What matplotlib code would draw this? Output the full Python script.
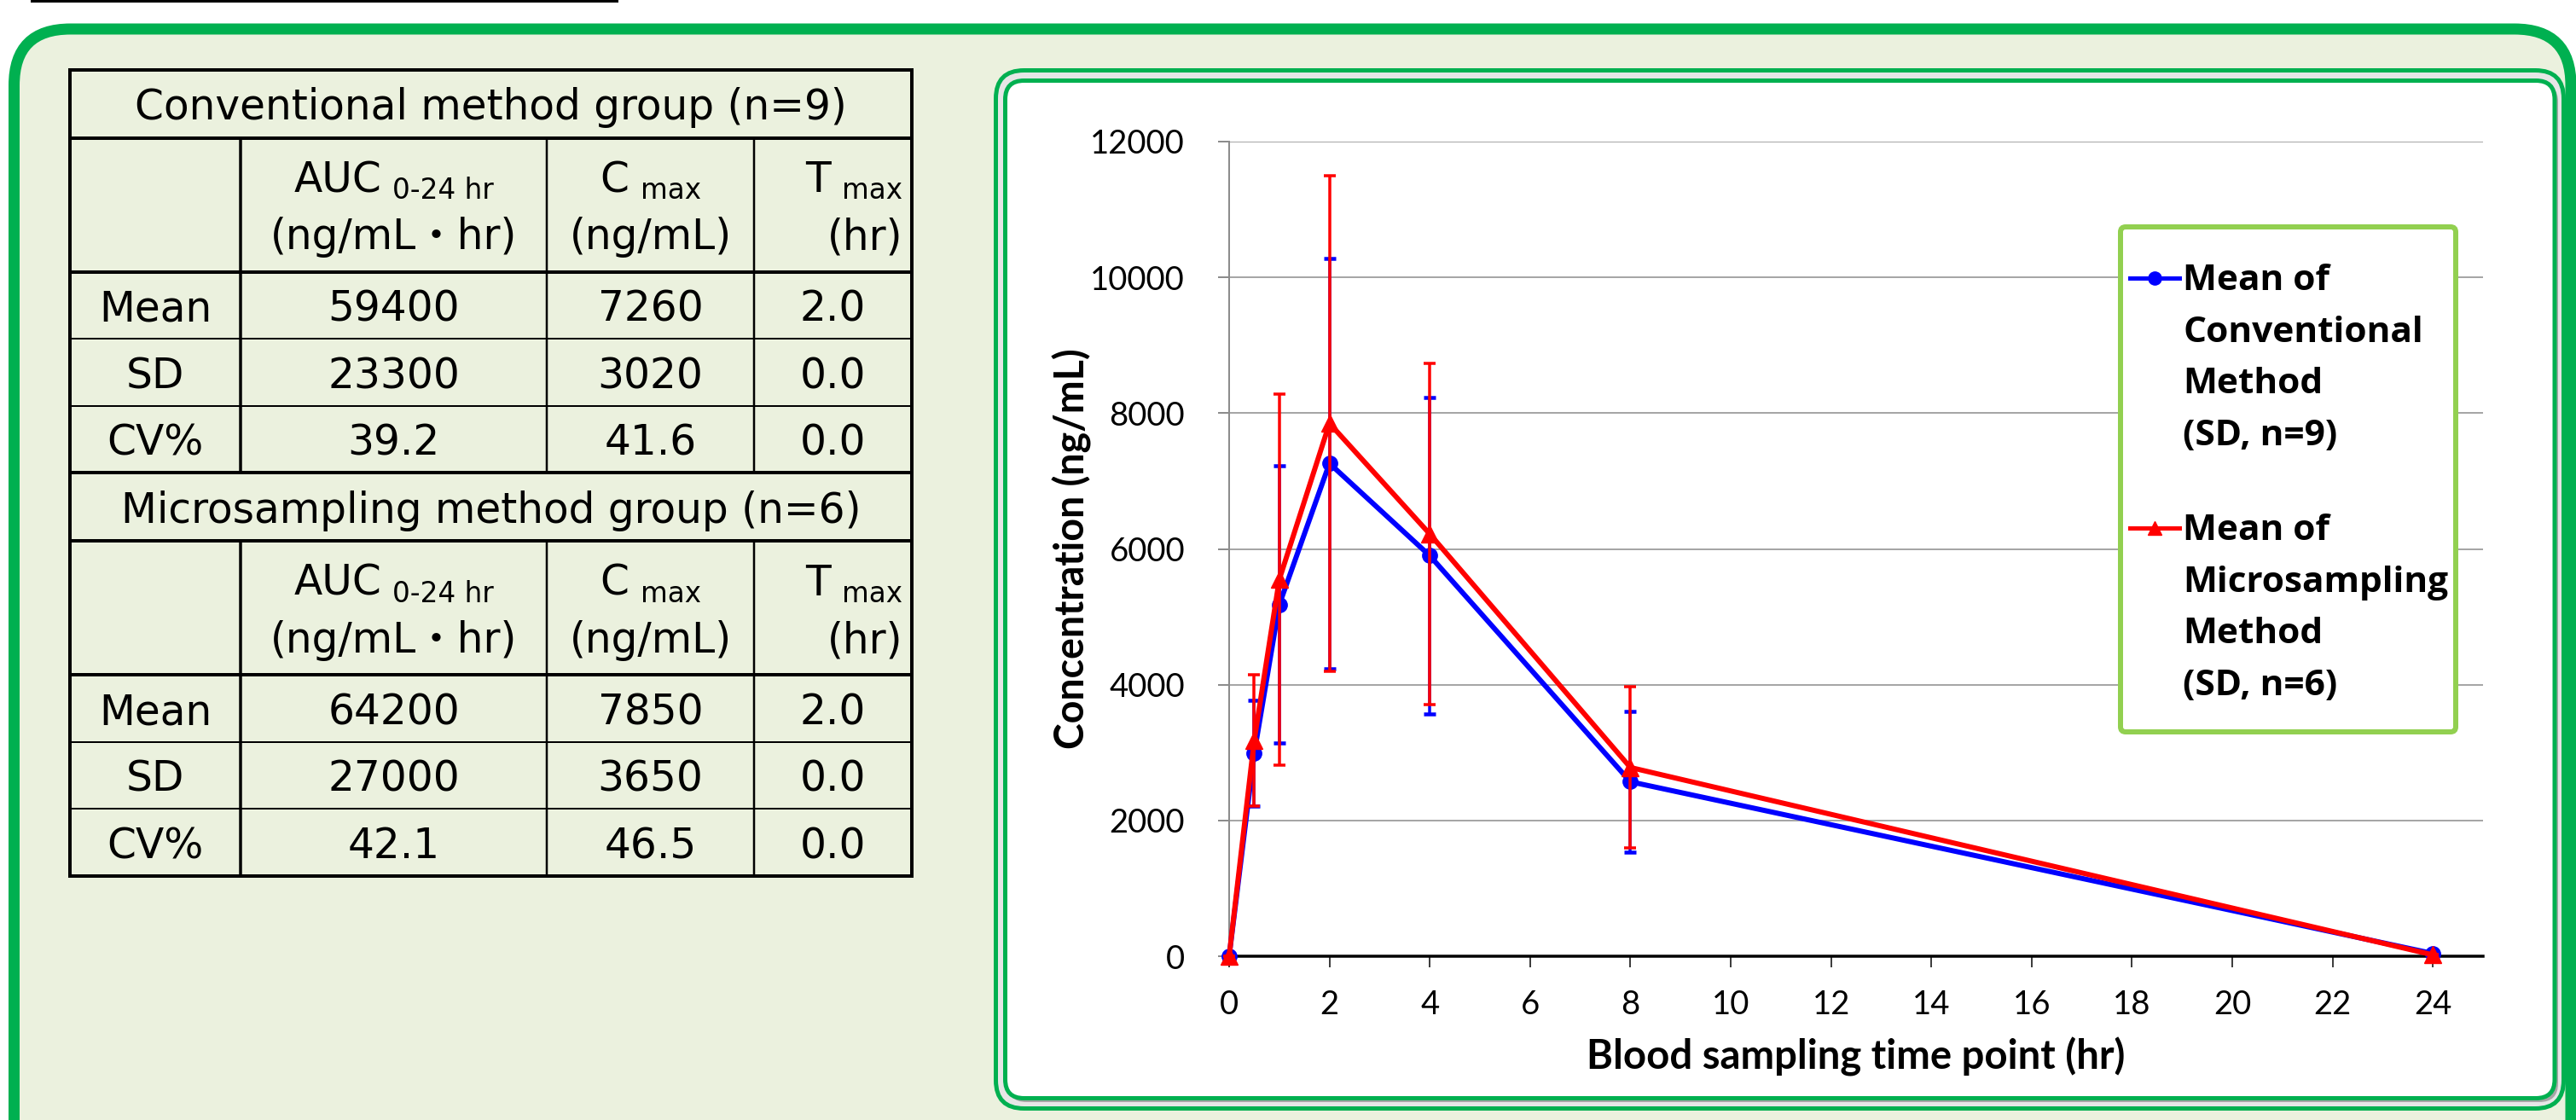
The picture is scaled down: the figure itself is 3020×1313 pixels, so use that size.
import matplotlib
matplotlib.use("Agg")
import matplotlib.pyplot as plt
from matplotlib.patches import FancyBboxPatch
from matplotlib.lines import Line2D
from matplotlib.transforms import IdentityTransform

# ---- data ----
time_hr = [0, 0.5, 1, 2, 4, 8, 24]
conv_mean = [0, 2990, 5180, 7260, 5900, 2570, 40]
conv_sd = [0, 775, 2040, 3020, 2330, 1040, 0]
micro_mean = [0, 3180, 5550, 7850, 6220, 2780, 20]
micro_sd = [0, 965, 2730, 3650, 2510, 1185, 0]

x_ticks = list(range(0, 25, 2))
y_ticks = list(range(0, 12001, 2000))

# ---- table contents ----
group_titles = ["Conventional method group (n=9)", "Microsampling method group (n=6)"]
param_names = ["AUC", "C", "T"]
param_subs = ["0-24 hr", "max", "max"]
param_units = ["(ng/mL・hr)", "(ng/mL)", "(hr)"]
stat_names = ["Mean", "SD", "CV%"]
conv_table = [["59400", "7260", "2.0"], ["23300", "3020", "0.0"], ["39.2", "41.6", "0.0"]]
micro_table = [["64200", "7850", "2.0"], ["27000", "3650", "0.0"], ["42.1", "46.5", "0.0"]]

legend_labels = [["Mean of", "Conventional", "Method", "(SD, n=9)"],
                 ["Mean of", "Microsampling", "Method", "(SD, n=6)"]]

W, H = 3020, 1313
plt.rcParams['font.family'] = ['Lato', 'DejaVu Sans']
fig = plt.figure(figsize=(W / 100, H / 100), dpi=100, facecolor='white')
ident = IdentityTransform()
PT = 0.72  # points per pixel at dpi 100

BLUE, RED = '#0000FF', '#FF0000'
GREEN, LGREEN, BG = '#00B050', '#92D050', '#EBF1DE'
TFONT = ['DejaVu Sans', 'Noto Sans CJK JP']


def rbox(x0, y0, x1, y1, r, **kw):
    # rounded box in image pixels (y from top)
    p = FancyBboxPatch((x0, H - y1), x1 - x0, y1 - y0,
                       boxstyle=f"round,pad=0,rounding_size={r}",
                       transform=ident, **kw)
    fig.add_artist(p)
    return p


def hline(x0, x1, y, lw, **kw):
    fig.add_artist(Line2D([x0, x1], [H - y, H - y], transform=ident, lw=lw * PT,
                          color='black', solid_capstyle='projecting', **kw))


def vline(x, y0, y1, lw, **kw):
    fig.add_artist(Line2D([x, x], [H - y0, H - y1], transform=ident, lw=lw * PT,
                          color='black', solid_capstyle='projecting', **kw))


def ptext(x, y, s, **kw):
    return fig.text(x, H - y, s, transform=ident, **kw)


# ---- background panels ----
hline(37, 723, 1, 3)
rbox(16.5, 34, 3014, 1420, 66, fc=BG, ec=GREEN, lw=13 * PT, zorder=-5)
rbox(1167.5, 82.5, 3005.5, 1299.5, 33, fc='#E6E6E6', ec=GREEN, lw=5 * PT, zorder=-4)
rbox(1181.5, 97.5, 2999, 1292, 22, fc='#A6A6A6', ec='none', zorder=-3)
rbox(1178.5, 94.5, 2995, 1287.5, 22, fc='white', ec=GREEN, lw=5 * PT, zorder=-2)

# ---- table ----
renderer = fig.canvas.get_renderer()
col_x = [82, 282, 641, 884, 1069]
title_h, header_h, row_h = 80, 157, 78.5
FS, FS_SUB = 35, 23.5


def header_cell(ci, top, main, sub, unit):
    x0, x1 = col_x[ci + 1], col_x[ci + 2]
    tm = ptext(0, 0, main, fontsize=FS, family=TFONT, va='baseline')
    ts = ptext(0, 0, sub, fontsize=FS_SUB, family=TFONT, va='baseline')
    wm = tm.get_window_extent(renderer).width
    ws = ts.get_window_extent(renderer).width
    gap = 13
    total = wm + gap + ws
    if ci == 2:
        start = x1 - 11 - total
        ptext(x1 - 11, top + 131, unit, fontsize=FS, family=TFONT, ha='right', va='baseline')
    else:
        start = (x0 + x1) / 2 - total / 2
        ptext((x0 + x1) / 2, top + 131, unit, fontsize=FS, family=TFONT, ha='center', va='baseline')
    tm.set_position((start, H - (top + 63.5)))
    ts.set_position((start + wm + gap, H - (top + 71.5)))


def draw_section(top, title, values):
    rows = [top, top + title_h, top + title_h + header_h]
    rows += [rows[-1] + row_h * (i + 1) for i in range(len(values))]
    bottom = rows[-1]
    hline(col_x[0], col_x[-1], rows[0], 4)
    hline(col_x[0], col_x[-1], rows[1], 4)
    hline(col_x[0], col_x[-1], rows[2], 4)
    for y in rows[3:-1]:
        hline(col_x[0], col_x[-1], y, 2)
    hline(col_x[0], col_x[-1], bottom, 4)
    vline(col_x[0], rows[0], bottom, 4)
    vline(col_x[-1], rows[0], bottom, 4)
    vline(col_x[1], rows[1], bottom, 3.5)
    for x in col_x[2:-1]:
        vline(x, rows[1], bottom, 2.5)
    ptext((col_x[0] + col_x[-1]) / 2, (rows[0] + rows[1]) / 2 + 19, title,
          fontsize=FS, family=TFONT, ha='center', va='baseline')
    for ci in range(3):
        header_cell(ci, rows[1], param_names[ci], param_subs[ci], param_units[ci])
    for ri, name in enumerate(stat_names):
        yc = (rows[3 + ri - 1] + rows[3 + ri]) / 2 + 19
        ptext((col_x[0] + col_x[1]) / 2, yc, name, fontsize=FS, family=TFONT,
              ha='center', va='baseline')
        for ci, v in enumerate(values[ri]):
            ptext((col_x[ci + 1] + col_x[ci + 2]) / 2, yc, v, fontsize=FS,
                  family=TFONT, ha='center', va='baseline')
    return bottom


b = draw_section(81.5, group_titles[0], conv_table)
draw_section(b, group_titles[1], micro_table)

# ---- chart ----
ax_l, ax_r, ax_t, ax_b = 1441, 2911, 166, 1121
ax = fig.add_axes([ax_l / W, 1 - ax_b / H, (ax_r - ax_l) / W, (ax_b - ax_t) / H])
ax.set_facecolor('none')

ax.errorbar(time_hr, conv_mean, yerr=conv_sd, color=BLUE, lw=6 * PT, marker='o', ms=12.5,
            elinewidth=3.5 * PT, capsize=4.7, capthick=4.5 * PT, clip_on=False, zorder=3)
ax.errorbar(time_hr, micro_mean, yerr=micro_sd, color=RED, lw=6 * PT, marker='^', ms=14,
            elinewidth=3.5 * PT, capsize=4.7, capthick=3.5 * PT, clip_on=False, zorder=4)

ax.set_xlim(0, 25)
ax.set_ylim(0, 12000)
ax.set_xticks(x_ticks)
ax.set_yticks(y_ticks)
ax.grid(axis='y', color='#A6A6A6', lw=2 * PT)
ax.grid(axis='x', visible=False)
ax.set_axisbelow(True)
for s in ['top', 'right']:
    ax.spines[s].set_visible(False)
ax.spines['left'].set_color('#8C8C8C')
ax.spines['left'].set_linewidth(2 * PT)
ax.spines['bottom'].set_color('black')
ax.spines['bottom'].set_linewidth(3.5 * PT)
ax.tick_params(axis='y', direction='out', length=13 * PT, width=2 * PT, color='#8C8C8C',
               pad=28, labelsize=27.5)
ax.tick_params(axis='x', direction='out', length=13 * PT, width=1.5 * PT, color='black',
               pad=19, labelsize=27.5)

ax.set_xlabel('Blood sampling time point (hr)', fontsize=34, fontweight='bold')
ax.set_ylabel('Concentration (ng/mL)', fontsize=33.5, fontweight='bold')
ax.xaxis.set_label_coords(0.5, (ax_b - 1216) / (ax_b - ax_t))
ax.yaxis.set_label_coords((1280 - ax_l) / (ax_r - ax_l), 0.5)

# ---- legend box ----
rbox(2486, 266, 2879, 858, 6, fc='white', ec=LGREEN, lw=6 * PT, zorder=5)
for (color, marker, ms), base, lines in zip([(BLUE, 'o', 11), (RED, '^', 12)], [340, 633],
                                            legend_labels):
    yh = base - 14
    fig.add_artist(Line2D([2497, 2526, 2555], [H - yh] * 3, transform=ident, color=color,
                          lw=5 * PT, marker=marker, ms=ms, markevery=[1], zorder=6))
    for i, line in enumerate(lines):
        ptext(2559, base + i * 60.7, line, fontsize=30.5, family='Open Sans',
              fontweight='bold', va='baseline', zorder=6)

fig.savefig('out.png', dpi=100, facecolor='white')
